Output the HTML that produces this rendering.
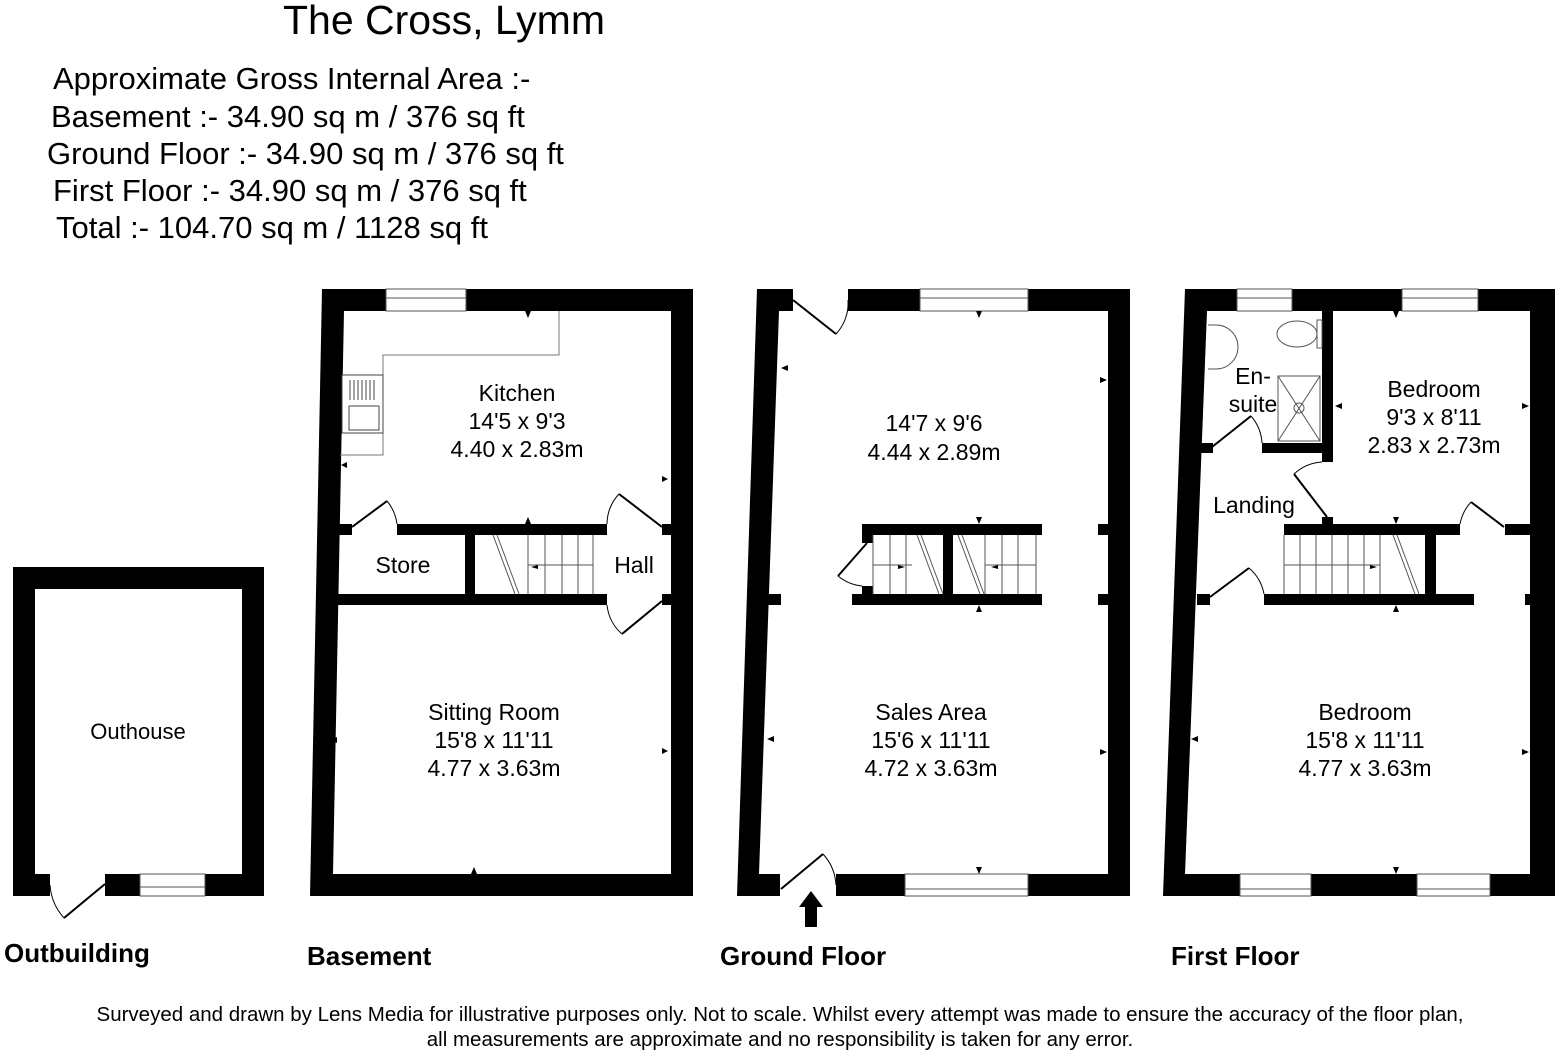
<!DOCTYPE html>
<html><head><meta charset="utf-8"><style>
html,body{margin:0;padding:0;background:#fff}
svg{display:block}
text{font-family:"Liberation Sans",Arial,sans-serif;fill:#000}
</style></head><body>
<svg width="1560" height="1056" viewBox="0 0 1560 1056" xmlns="http://www.w3.org/2000/svg">
<rect width="1560" height="1056" fill="#fff"/>
<text x="444" y="34" font-size="41" text-anchor="middle">The Cross, Lymm</text>
<g font-size="31">
<text x="53" y="89">Approximate Gross Internal Area :-</text>
<text x="51" y="127">Basement :- 34.90 sq m / 376 sq ft</text>
<text x="47" y="164">Ground Floor :- 34.90 sq m / 376 sq ft</text>
<text x="53" y="201">First Floor :- 34.90 sq m / 376 sq ft</text>
<text x="56" y="238">Total :- 104.70 sq m / 1128 sq ft</text>
</g>

<!-- OUTHOUSE -->
<g fill="#000">
<rect x="13" y="567" width="251" height="22"/>
<rect x="13" y="567" width="22" height="329"/>
<rect x="242" y="567" width="22" height="329"/>
<rect x="13" y="874" width="37" height="22"/>
<rect x="105" y="874" width="35" height="22"/>
<rect x="205" y="874" width="59" height="22"/>
</g>
<rect x="140" y="874" width="65" height="22" fill="#fff" stroke="#555" stroke-width="1"/>
<line x1="140" y1="887" x2="205" y2="887" stroke="#555"/>
<line x1="105" y1="884" x2="64" y2="918" stroke="#000" stroke-width="2"/>
<path d="M64 918 A55 55 0 0 1 50 885" fill="none" stroke="#000" stroke-width="1"/>
<text x="138" y="739" font-size="22" text-anchor="middle">Outhouse</text>

<!-- BASEMENT -->
<polygon points="322,289 693,289 693,896 310,896" fill="#000"/>
<polygon points="344,311 671,311 671,874 333,874" fill="#fff"/>
<rect x="386" y="289" width="80" height="22" fill="#fff" stroke="#555"/>
<line x1="386" y1="298" x2="466" y2="298" stroke="#555"/>
<g fill="#000">
<rect x="333" y="524" width="19" height="11"/>
<rect x="397" y="524" width="210" height="11"/>
<rect x="662" y="524" width="10" height="11"/>
<rect x="333" y="594" width="274" height="11"/>
<rect x="662" y="594" width="10" height="11"/>
<rect x="465" y="535" width="10" height="59"/>
</g>
<polyline points="340,455 383,455 383,355 559,355 559,311" fill="none" stroke="#777" stroke-width="1"/>
<rect x="342" y="375" width="41" height="58" fill="#fff" stroke="#444" stroke-width="1"/>
<g stroke="#444" stroke-width="1">
<line x1="350" y1="380" x2="350" y2="400"/><line x1="354" y1="380" x2="354" y2="400"/><line x1="358" y1="380" x2="358" y2="400"/><line x1="362" y1="380" x2="362" y2="400"/><line x1="366" y1="380" x2="366" y2="400"/><line x1="370" y1="380" x2="370" y2="400"/><line x1="374" y1="380" x2="374" y2="400"/>
</g>
<rect x="349" y="406" width="30" height="24" fill="none" stroke="#444"/>
<g stroke="#555" stroke-width="1" fill="none">
<line x1="528" y1="535" x2="528" y2="594"/><line x1="545" y1="535" x2="545" y2="594"/><line x1="562" y1="535" x2="562" y2="594"/><line x1="578" y1="535" x2="578" y2="594"/><line x1="593" y1="535" x2="593" y2="594"/>
<line x1="528" y1="565" x2="593" y2="565"/>
<line x1="493" y1="535" x2="515" y2="594"/><line x1="497" y1="535" x2="519" y2="594"/>
</g>
<g stroke="#000" stroke-width="2">
<line x1="352" y1="527" x2="387" y2="501"/>
<line x1="662" y1="527" x2="619" y2="494"/>
<line x1="662" y1="601" x2="622" y2="634"/>
</g>
<g stroke="#000" stroke-width="1" fill="none">
<path d="M387 501 A45 45 0 0 1 397 524"/>
<path d="M619 494 A45 45 0 0 0 607 524"/>
<path d="M622 634 A45 45 0 0 1 607 605"/>
</g>
<g fill="#000">
<polygon points="525,311 531,311 528,318"/><polygon points="525,524 531,524 528,517"/>
<polygon points="471,605 477,605 474,598"/><polygon points="471,874 477,874 474,867"/>
<polygon points="347,462 347,468 341,465"/><polygon points="662,476 662,482 668,479"/>
<polygon points="337,737 337,743 331,740"/><polygon points="662,748 662,754 668,751"/>
<polygon points="538,565 538,569 531,567"/>
</g>
<g font-size="23" text-anchor="middle">
<text x="517" y="401">Kitchen</text><text x="517" y="429">14'5 x 9'3</text><text x="517" y="457">4.40 x 2.83m</text>
<text x="403" y="573">Store</text><text x="634" y="573">Hall</text>
<text x="494" y="720">Sitting Room</text><text x="494" y="748">15'8 x 11'11</text><text x="494" y="776">4.77 x 3.63m</text>
</g>

<!-- GROUND FLOOR -->
<polygon points="757,289 1130,289 1130,896 737,896" fill="#000"/>
<polygon points="779,311 1108,311 1108,874 759,874" fill="#fff"/>
<rect x="793" y="286" width="55" height="26" fill="#fff"/>
<rect x="920" y="289" width="108" height="22" fill="#fff" stroke="#555"/>
<line x1="920" y1="298" x2="1028" y2="298" stroke="#555"/>
<rect x="780" y="873" width="56" height="25" fill="#fff"/>
<rect x="905" y="874" width="123" height="22" fill="#fff" stroke="#555"/>
<line x1="905" y1="889" x2="1028" y2="889" stroke="#555"/>
<line x1="793" y1="300" x2="836" y2="334" stroke="#000" stroke-width="2"/>
<path d="M836 334 A45 45 0 0 0 848 300" fill="none" stroke="#000"/>
<line x1="781" y1="889" x2="823" y2="854" stroke="#000" stroke-width="2"/>
<path d="M823 854 A50 50 0 0 1 836 885" fill="none" stroke="#000"/>
<polygon points="811,891 823,907 817,907 817,927 805,927 805,907 799,907" fill="#000"/>
<g fill="#000">
<rect x="862" y="524" width="180" height="11"/>
<rect x="852" y="594" width="190" height="11"/>
<rect x="862" y="535" width="11" height="8"/>
<rect x="862" y="586" width="11" height="8"/>
<rect x="943" y="535" width="10" height="59"/>
<rect x="1098" y="524" width="10" height="11"/><rect x="1098" y="594" width="10" height="11"/>
<rect x="768" y="594" width="13" height="11"/>
</g>
<g stroke="#555" stroke-width="1" fill="none">
<line x1="873" y1="535" x2="873" y2="594"/><line x1="890" y1="535" x2="890" y2="594"/><line x1="906" y1="535" x2="906" y2="594"/>
<line x1="873" y1="565" x2="912" y2="565"/>
<line x1="917" y1="535" x2="939" y2="594"/><line x1="921" y1="535" x2="943" y2="594"/>
<line x1="985" y1="535" x2="985" y2="594"/><line x1="1002" y1="535" x2="1002" y2="594"/><line x1="1018" y1="535" x2="1018" y2="594"/><line x1="1036" y1="535" x2="1036" y2="594"/>
<line x1="985" y1="565" x2="1036" y2="565"/>
<line x1="958" y1="535" x2="980" y2="594"/><line x1="962" y1="535" x2="984" y2="594"/>
</g>
<line x1="867" y1="543" x2="838" y2="576" stroke="#000" stroke-width="2"/>
<path d="M838 576 A45 45 0 0 0 862 586" fill="none" stroke="#000"/>
<g fill="#000">
<polygon points="976,311 982,311 979,318"/><polygon points="976,517 982,517 979,524"/>
<polygon points="976,612 982,612 979,605"/><polygon points="976,867 982,867 979,874"/>
<polygon points="788,365 788,371 781,368"/><polygon points="1100,377 1100,383 1107,380"/>
<polygon points="774,736 774,742 767,739"/><polygon points="1100,749 1100,755 1107,752"/>
<polygon points="898,565 898,569 905,567"/><polygon points="998,565 998,569 991,567"/>
</g>
<g font-size="23" text-anchor="middle">
<text x="934" y="431">14'7 x 9'6</text><text x="934" y="460">4.44 x 2.89m</text>
<text x="931" y="720">Sales Area</text><text x="931" y="748">15'6 x 11'11</text><text x="931" y="776">4.72 x 3.63m</text>
</g>

<!-- FIRST FLOOR -->
<polygon points="1185,289 1555,289 1555,896 1163,896" fill="#000"/>
<polygon points="1207,311 1530,311 1530,874 1185,874" fill="#fff"/>
<rect x="1237" y="289" width="55" height="22" fill="#fff" stroke="#555"/>
<line x1="1237" y1="298" x2="1292" y2="298" stroke="#555"/>
<rect x="1402" y="289" width="76" height="22" fill="#fff" stroke="#555"/>
<line x1="1402" y1="298" x2="1478" y2="298" stroke="#555"/>
<rect x="1240" y="874" width="71" height="22" fill="#fff" stroke="#555"/>
<line x1="1240" y1="889" x2="1311" y2="889" stroke="#555"/>
<rect x="1417" y="874" width="73" height="22" fill="#fff" stroke="#555"/>
<line x1="1417" y1="889" x2="1490" y2="889" stroke="#555"/>
<g fill="#000">
<rect x="1322" y="311" width="11" height="151"/>
<rect x="1262" y="443" width="71" height="10"/>
<rect x="1201" y="443" width="12" height="10"/>
<rect x="1284" y="524" width="176" height="11"/>
<rect x="1322" y="517" width="11" height="18"/>
<rect x="1505" y="524" width="27" height="11"/>
<rect x="1264" y="594" width="210" height="11"/>
<rect x="1525" y="594" width="7" height="11"/>
<rect x="1197" y="594" width="13" height="11"/>
<rect x="1425" y="535" width="11" height="59"/>
</g>
<g stroke="#555" stroke-width="1" fill="none">
<line x1="1284" y1="535" x2="1284" y2="594"/><line x1="1300" y1="535" x2="1300" y2="594"/><line x1="1316" y1="535" x2="1316" y2="594"/><line x1="1332" y1="535" x2="1332" y2="594"/><line x1="1348" y1="535" x2="1348" y2="594"/><line x1="1364" y1="535" x2="1364" y2="594"/><line x1="1380" y1="535" x2="1380" y2="594"/>
<line x1="1284" y1="565" x2="1380" y2="565"/>
<line x1="1393" y1="535" x2="1415" y2="594"/><line x1="1397" y1="535" x2="1419" y2="594"/>
<rect x="1278" y="376" width="42" height="65"/>
<line x1="1278" y1="376" x2="1320" y2="441"/><line x1="1320" y1="376" x2="1278" y2="441"/>
<circle cx="1299" cy="408" r="5"/>
<path d="M1208 325 L1216 325 A22 22 0 0 1 1216 369 L1208 369"/>
<ellipse cx="1297" cy="334" rx="20" ry="13"/>
<rect x="1317" y="320" width="5" height="28"/>
</g>
<g stroke="#000" stroke-width="2">
<line x1="1212" y1="447" x2="1251" y2="416"/>
<line x1="1327" y1="517" x2="1294" y2="474"/>
<line x1="1504" y1="527" x2="1471" y2="502"/>
<line x1="1210" y1="597" x2="1249" y2="568"/>
</g>
<g stroke="#000" stroke-width="1" fill="none">
<path d="M1251 416 A45 45 0 0 1 1262 443"/>
<path d="M1294 474 A45 45 0 0 1 1322 462"/>
<path d="M1471 502 A45 45 0 0 0 1460 524"/>
<path d="M1249 568 A45 45 0 0 1 1264 594"/>
</g>
<g fill="#000">
<polygon points="1393,311 1399,311 1396,318"/><polygon points="1393,517 1399,517 1396,524"/>
<polygon points="1393,612 1399,612 1396,605"/><polygon points="1393,867 1399,867 1396,874"/>
<polygon points="1342,403 1342,409 1335,406"/><polygon points="1522,403 1522,409 1529,406"/>
<polygon points="1198,736 1198,742 1191,739"/><polygon points="1522,749 1522,755 1529,752"/>
<polygon points="1370,565 1370,569 1377,567"/>
</g>
<g font-size="23" text-anchor="middle">
<text x="1253" y="384">En-</text><text x="1253" y="412">suite</text>
<text x="1434" y="397">Bedroom</text><text x="1434" y="425">9'3 x 8'11</text><text x="1434" y="453">2.83 x 2.73m</text>
<text x="1254" y="513">Landing</text>
<text x="1365" y="720">Bedroom</text><text x="1365" y="748">15'8 x 11'11</text><text x="1365" y="776">4.77 x 3.63m</text>
</g>

<g font-size="26" font-weight="bold">
<text x="4" y="962">Outbuilding</text>
<text x="307" y="965">Basement</text>
<text x="720" y="965">Ground Floor</text>
<text x="1171" y="965">First Floor</text>
</g>
<g font-size="20.5" text-anchor="middle">
<text x="780" y="1021">Surveyed and drawn by Lens Media for illustrative purposes only. Not to scale. Whilst every attempt was made to ensure the accuracy of the floor plan,</text>
<text x="780" y="1046">all measurements are approximate and no responsibility is taken for any error.</text>
</g>
</svg>
</body></html>
